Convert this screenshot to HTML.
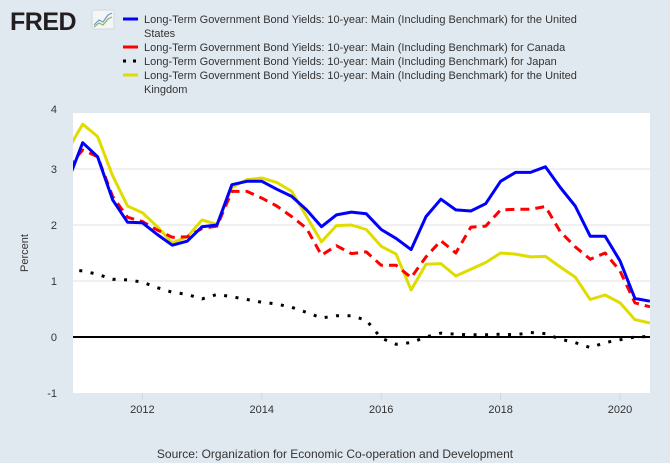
<!DOCTYPE html>
<html><head><meta charset="utf-8"><style>
body{margin:0;width:670px;height:463px;background:#e1e9f0;font-family:"Liberation Sans",sans-serif;overflow:hidden}
svg{display:block}
</style></head><body>
<svg id="chart" width="670" height="463">
<g>
<text x="10" y="30" font-size="25" font-weight="bold" fill="#231f20" font-family="Liberation Sans, sans-serif" letter-spacing="-0.5">FRED</text>
<rect x="92" y="10" width="22" height="19" rx="2" fill="#f3f5f7" stroke="#cfd8e0"/>
<polyline points="94,25 99,20 103,22 108,15 112,13" fill="none" stroke="#6f9bc4" stroke-width="1.2"/>
<polyline points="94,27 99,23 103,25 108,19 112,17" fill="none" stroke="#8bb36a" stroke-width="1.2"/>
</g>
<g font-size="11" fill="#333">
<g><line x1="123" y1="19" x2="138" y2="19" stroke="#0000ff" stroke-width="3"/><text x="144" y="23">Long-Term Government Bond Yields: 10-year: Main (Including Benchmark) for the United</text><text x="144" y="37">States</text></g>
<g><line x1="123" y1="47" x2="138" y2="47" stroke="#ff0000" stroke-width="3"/><text x="144" y="51">Long-Term Government Bond Yields: 10-year: Main (Including Benchmark) for Canada</text></g>
<g><line x1="123" y1="61" x2="138" y2="61" stroke="#000" stroke-width="3" stroke-dasharray="3,7"/><text x="144" y="65">Long-Term Government Bond Yields: 10-year: Main (Including Benchmark) for Japan</text></g>
<g><line x1="123" y1="75" x2="138" y2="75" stroke="#e0dc00" stroke-width="3"/><text x="144" y="79">Long-Term Government Bond Yields: 10-year: Main (Including Benchmark) for the United</text><text x="144" y="93">Kingdom</text></g>
</g>
<rect x="73" y="113" width="577" height="280" fill="#fff"/>
<g id="grid"></g>
<g id="axes"></g>
<g id="series" clip-path="url(#clip)"></g>
<defs><clipPath id="clip"><rect x="73" y="113" width="577" height="280"/></clipPath></defs>
<text x="28" y="253" font-size="11" fill="#333" text-anchor="middle" transform="rotate(-90 28 253)">Percent</text>
<text x="335" y="458" font-size="12" fill="#333" text-anchor="middle">Source: Organization for Economic Co-operation and Development</text>
</svg>
<script>
const startYear = 2010.75;
const usValues = [2.78,3.47,3.22,2.45,2.05,2.04,1.83,1.64,1.71,1.97,2.0,2.72,2.78,2.78,2.64,2.51,2.27,1.97,2.18,2.23,2.2,1.92,1.76,1.56,2.15,2.46,2.27,2.25,2.38,2.78,2.94,2.94,3.04,2.67,2.34,1.80,1.80,1.36,0.69,0.64];
const canadaValues = [3.03,3.34,3.22,2.51,2.14,2.06,1.91,1.78,1.79,1.94,1.98,2.6,2.6,2.48,2.34,2.15,1.94,1.46,1.63,1.49,1.52,1.28,1.28,1.06,1.43,1.72,1.50,1.96,1.98,2.27,2.28,2.28,2.33,1.88,1.61,1.39,1.50,1.18,0.61,0.54];
const japanValues = [1.2,1.18,1.12,1.03,1.02,0.98,0.88,0.80,0.76,0.68,0.76,0.72,0.67,0.62,0.59,0.53,0.44,0.34,0.38,0.38,0.30,-0.02,-0.13,-0.1,0.0,0.07,0.05,0.04,0.04,0.05,0.04,0.08,0.06,-0.04,-0.1,-0.19,-0.1,-0.05,0.0,0.01];
const ukValues = [3.34,3.80,3.58,2.88,2.34,2.22,1.97,1.68,1.79,2.09,2.01,2.67,2.81,2.84,2.76,2.6,2.15,1.70,1.99,2.0,1.92,1.62,1.48,0.84,1.30,1.31,1.09,1.21,1.33,1.50,1.48,1.43,1.44,1.25,1.07,0.67,0.75,0.61,0.31,0.25];
const yTicks = [-1,0,1,2,3,4];
const xTicks = [2012,2014,2016,2018,2020];
const NS='http://www.w3.org/2000/svg';
const xS = t => 82.7 + (t-2011)*59.7;
const yS = v => 113 + (4-v)*56;
function mk(tag, attrs, parent){const e=document.createElementNS(NS,tag);for(const k in attrs)e.setAttribute(k,attrs[k]);parent.appendChild(e);return e;}
const grid=document.getElementById('grid'), axes=document.getElementById('axes'), ser=document.getElementById('series');
yTicks.forEach(v=>{
  if(v!==0 && v!==4 && v!==-1){const l=mk('line',{x1:73,x2:650,y1:yS(v),y2:yS(v),stroke:'#e0e0e0','stroke-width':1},grid);
  
  }
  const t=mk('text',{x:57,y:yS(v)+(v===4?0:4),'font-size':11,fill:'#333','text-anchor':'end'},axes);
  t.textContent=v;
  
  
});
xTicks.forEach(yr=>{
  const l=mk('line',{x1:xS(yr),x2:xS(yr),y1:393,y2:400,stroke:'#ccd6eb','stroke-width':1},axes);
  
  
  const t=mk('text',{x:xS(yr),y:413,'font-size':11,fill:'#333','text-anchor':'middle'},axes);
  t.textContent=yr;
  
  
});
const zl=mk('line',{x1:73,x2:650,y1:yS(0),y2:yS(0),stroke:'#000','stroke-width':2},grid);


function series(vals,color,dash,name){
  const pts=vals.map((v,i)=>xS(startYear+i*0.25).toFixed(1)+','+yS(v).toFixed(1)).join(' ');
  const a={points:pts,fill:'none',stroke:color,'stroke-width':3,'stroke-linejoin':'round'};
  if(dash){a['stroke-dasharray']=dash;}
  const p=mk('polyline',a,ser);
  
  
}
series(japanValues,'#000','3,8.5','series-japan');
series(ukValues,'#e0dc00',null,'series-uk');
series(canadaValues,'#ff0000','9,6','series-canada');
series(usValues,'#0000ff',null,'series-us');
</script>
</body></html>
